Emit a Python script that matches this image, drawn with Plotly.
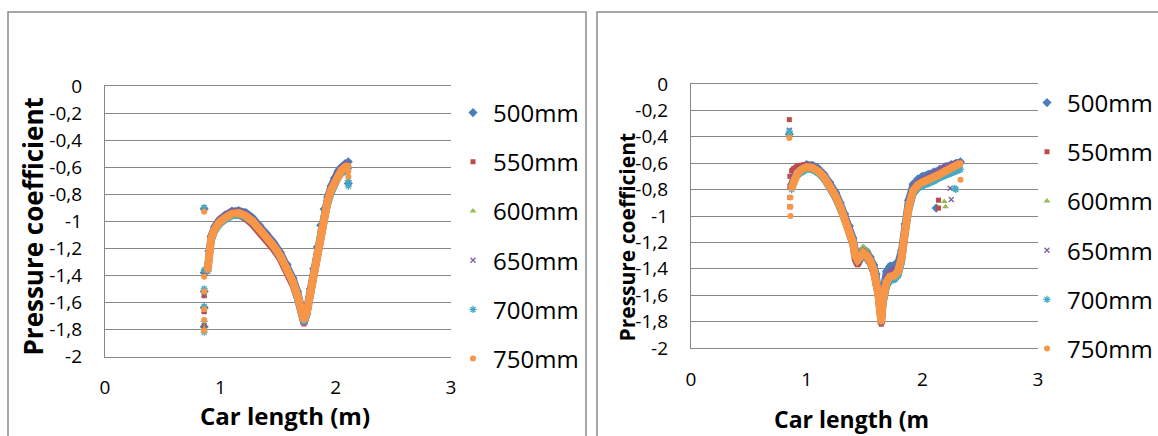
import plotly.graph_objects as go

W, H = 1158, 436
FONT = "Open Sans, Lato, sans-serif"

series_names = ["500mm", "550mm", "600mm", "650mm", "700mm", "750mm"]
series_colors = ["#4A7EBB", "#BE4B48", "#98B954", "#7D60A0", "#46AAC5", "#F79646"]
series_symbols = ["diamond", "square", "triangle-up", "x-thin-open", "asterisk-open", "circle"]
marker_sizes = [7, 5, 6, 5, 6, 6]
line_widths = [7, 7, 7, 7, 7, 8]

y_tick_vals = [0, -0.2, -0.4, -0.6, -0.8, -1, -1.2, -1.4, -1.6, -1.8, -2]
y_tick_text = ["0", "-0,2", "-0,4", "-0,6", "-0,8", "-1", "-1,2", "-1,4", "-1,6", "-1,8", "-2"]
x_tick_vals = [0, 1, 2, 3]
x_tick_text = ["0", "1", "2", "3"]

# ---------------- left chart ----------------
x_left = [0.89, 0.90, 0.92, 0.95, 0.99, 1.04, 1.10, 1.16, 1.22, 1.28, 1.34, 1.40, 1.46, 1.52, 1.58, 1.63,
          1.67, 1.70, 1.725, 1.75, 1.78, 1.81, 1.84, 1.87, 1.90, 1.93, 1.96, 1.99, 2.02, 2.05, 2.08, 2.11]
left_500 = [-1.34, -1.22, -1.11, -1.04, -0.99, -0.955, -0.925, -0.92, -0.935, -0.975, -1.03, -1.09, -1.155, -1.23,
            -1.32, -1.42, -1.52, -1.62, -1.71, -1.64, -1.50, -1.35, -1.19, -1.03, -0.91, -0.82, -0.74, -0.68, -0.63,
            -0.60, -0.575, -0.56]
left_550 = [-1.37, -1.25, -1.14, -1.07, -1.02, -0.985, -0.955, -0.955, -0.98, -1.025, -1.08, -1.14, -1.205, -1.28,
            -1.375, -1.475, -1.575, -1.68, -1.76, -1.69, -1.55, -1.40, -1.24, -1.08, -0.96, -0.865, -0.785, -0.72,
            -0.67, -0.635, -0.61, -0.60]
left_600 = [-1.36, -1.235, -1.125, -1.055, -1.005, -0.97, -0.94, -0.935, -0.955, -0.995, -1.05, -1.11, -1.175, -1.25,
            -1.345, -1.445, -1.545, -1.645, -1.725, -1.665, -1.525, -1.375, -1.215, -1.055, -0.935, -0.845, -0.765,
            -0.705, -0.655, -0.62, -0.595, -0.585]
left_650 = [-1.35, -1.23, -1.115, -1.045, -0.995, -0.96, -0.93, -0.925, -0.945, -0.985, -1.04, -1.10, -1.165, -1.24,
            -1.335, -1.435, -1.535, -1.635, -1.72, -1.655, -1.515, -1.365, -1.205, -1.045, -0.925, -0.835, -0.755,
            -0.695, -0.645, -0.61, -0.585, -0.57]
left_700 = [-1.37, -1.25, -1.145, -1.075, -1.025, -0.99, -0.96, -0.955, -0.97, -1.01, -1.06, -1.12, -1.185, -1.26,
            -1.355, -1.455, -1.56, -1.66, -1.745, -1.69, -1.56, -1.41, -1.25, -1.09, -0.97, -0.875, -0.795, -0.73,
            -0.68, -0.645, -0.62, -0.61]
left_750 = [-1.36, -1.24, -1.13, -1.06, -1.01, -0.975, -0.945, -0.94, -0.96, -1.00, -1.055, -1.115, -1.18, -1.255,
            -1.35, -1.45, -1.55, -1.65, -1.73, -1.67, -1.53, -1.38, -1.22, -1.06, -0.94, -0.85, -0.77, -0.71, -0.66,
            -0.625, -0.60, -0.59]

# isolated (stray) points, left chart
left_iso_x = [
    [0.86, 0.86, 0.86, 0.86, 0.86, 2.11],
    [0.86, 0.86, 0.86, 0.86, 0.86],
    [0.86, 0.86, 0.86, 0.86, 0.86],
    [0.86, 0.86, 0.86, 0.86, 0.86],
    [0.86, 0.86, 0.86, 0.86, 0.86, 0.86, 2.11, 2.11],
    [0.86, 0.86, 0.86, 0.86, 0.86, 0.86, 2.11, 2.11],
]
left_iso_y = [
    [-0.91, -1.38, -1.52, -1.64, -1.78, -0.72],
    [-0.92, -1.37, -1.55, -1.67, -1.77],
    [-0.91, -1.40, -1.53, -1.65, -1.79],
    [-0.90, -1.39, -1.54, -1.66, -1.80],
    [-0.90, -1.36, -1.50, -1.63, -1.74, -1.82, -0.74, -0.70],
    [-0.93, -1.41, -1.52, -1.65, -1.73, -1.81, -0.67, -0.63],
]

# ---------------- right chart ----------------
x_right = [0.87, 0.89, 0.92, 0.96, 1.00, 1.05, 1.10, 1.15, 1.20, 1.25, 1.29, 1.33, 1.37, 1.40, 1.42, 1.44, 1.47,
           1.49, 1.52, 1.55, 1.58, 1.60, 1.62, 1.635, 1.645, 1.66, 1.69, 1.72, 1.76, 1.79, 1.82, 1.85, 1.88, 1.92,
           1.96, 2.00, 2.05, 2.10, 2.15, 2.20, 2.25, 2.29, 2.33]
right_500 = [-0.76, -0.70, -0.655, -0.625, -0.61, -0.615, -0.64, -0.685, -0.745, -0.82, -0.90, -0.985, -1.075,
             -1.165, -1.26, -1.29, -1.27, -1.25, -1.27, -1.31, -1.37, -1.44, -1.53, -1.66, -1.74, -1.56, -1.42,
             -1.38, -1.37, -1.35, -1.26, -1.06, -0.88, -0.76, -0.72, -0.70, -0.685, -0.665, -0.645, -0.625, -0.61,
             -0.60, -0.59]
right_550 = [-0.66, -0.64, -0.625, -0.62, -0.615, -0.625, -0.655, -0.70, -0.77, -0.855, -0.94, -1.03, -1.125,
             -1.22, -1.33, -1.37, -1.32, -1.30, -1.32, -1.36, -1.43, -1.51, -1.61, -1.74, -1.82, -1.66, -1.53,
             -1.48, -1.47, -1.44, -1.34, -1.13, -0.95, -0.82, -0.77, -0.74, -0.72, -0.70, -0.675, -0.65, -0.63,
             -0.61, -0.60]
right_600 = [-0.78, -0.71, -0.67, -0.64, -0.625, -0.63, -0.655, -0.70, -0.765, -0.845, -0.925, -1.01, -1.10,
             -1.19, -1.29, -1.31, -1.27, -1.25, -1.28, -1.33, -1.40, -1.48, -1.58, -1.71, -1.79, -1.61, -1.48,
             -1.42, -1.42, -1.40, -1.31, -1.11, -0.93, -0.80, -0.755, -0.735, -0.72, -0.70, -0.675, -0.65, -0.63,
             -0.61, -0.60]
right_650 = [-0.77, -0.705, -0.66, -0.635, -0.62, -0.625, -0.65, -0.695, -0.76, -0.84, -0.92, -1.005, -1.10,
             -1.19, -1.29, -1.32, -1.29, -1.27, -1.29, -1.33, -1.40, -1.48, -1.58, -1.71, -1.79, -1.60, -1.47,
             -1.42, -1.41, -1.39, -1.30, -1.10, -0.92, -0.79, -0.745, -0.725, -0.705, -0.68, -0.655, -0.625, -0.61,
             -0.60, -0.595]
right_700 = [-0.80, -0.735, -0.69, -0.66, -0.645, -0.65, -0.675, -0.72, -0.785, -0.865, -0.945, -1.03, -1.125,
             -1.215, -1.31, -1.345, -1.315, -1.295, -1.315, -1.355, -1.425, -1.505, -1.605, -1.73, -1.80, -1.66,
             -1.53, -1.49, -1.48, -1.45, -1.35, -1.15, -0.97, -0.835, -0.79, -0.77, -0.755, -0.735, -0.71, -0.69,
             -0.67, -0.655, -0.645]
right_750 = [-0.79, -0.72, -0.675, -0.645, -0.63, -0.635, -0.66, -0.705, -0.77, -0.85, -0.93, -1.015, -1.11,
             -1.20, -1.30, -1.33, -1.30, -1.28, -1.30, -1.34, -1.41, -1.49, -1.59, -1.72, -1.80, -1.63, -1.50,
             -1.46, -1.45, -1.42, -1.32, -1.12, -0.94, -0.81, -0.765, -0.745, -0.73, -0.71, -0.685, -0.66, -0.635,
             -0.615, -0.60]

right_iso_x = [
    [0.85, 2.12],
    [0.85, 0.855, 0.855, 0.855, 0.855, 2.14, 2.14],
    [0.85, 2.19, 2.20],
    [0.85, 2.24, 2.25],
    [0.85, 2.28, 2.29],
    [0.85, 0.86, 0.86, 0.86, 2.33],
]
right_iso_y = [
    [-0.38, -0.94],
    [-0.27, -0.70, -0.78, -0.86, -0.93, -0.88, -0.94],
    [-0.38, -0.89, -0.93],
    [-0.35, -0.79, -0.875],
    [-0.36, -0.79, -0.80],
    [-0.41, -0.86, -0.93, -1.00, -0.725],
]

left_series = [left_500, left_550, left_600, left_650, left_700, left_750]
right_series = [right_500, right_550, right_600, right_650, right_700, right_750]


def px(x):
    return x / W


def py(y):
    return 1 - y / H


fig = go.Figure()


def add_chart(xc, ys, iso_x, iso_y, xa, ya, legend_id, tag):
    for i, name in enumerate(series_names):
        grp = f"{tag}{name}"
        fig.add_trace(go.Scatter(
            x=xc, y=ys[i], mode="lines", xaxis=xa, yaxis=ya,
            line=dict(color=series_colors[i], width=line_widths[i]),
            legendgroup=grp, showlegend=False, hoverinfo="skip", legend=legend_id))
        mx = list(xc) + list(iso_x[i])
        my = list(ys[i]) + list(iso_y[i])
        mk = dict(symbol=series_symbols[i], size=marker_sizes[i], color=series_colors[i],
                  line=dict(width=1.3 if "open" in series_symbols[i] else 0, color=series_colors[i]))
        fig.add_trace(go.Scatter(
            x=mx, y=my, mode="markers", xaxis=xa, yaxis=ya, name=name, marker=mk,
            legendgroup=grp, showlegend=True, legend=legend_id))


add_chart(x_left, left_series, left_iso_x, left_iso_y, "x", "y", "legend", "L")
add_chart(x_right, right_series, right_iso_x, right_iso_y, "x2", "y2", "legend2", "R")

GRID = "#878787"


def xaxis_cfg(domain, anchor):
    return dict(domain=domain, anchor=anchor, range=[0, 3], tickvals=x_tick_vals, ticktext=x_tick_text,
                showgrid=False, zeroline=False, showline=True, mirror=True, linecolor=GRID, linewidth=1.3,
                ticks="outside", ticklen=14, tickcolor="rgba(0,0,0,0)",
                tickfont=dict(family=FONT, size=19, color="#000"), fixedrange=True)


def yaxis_cfg(domain, anchor):
    return dict(domain=domain, anchor=anchor, range=[-2, 0], tickvals=y_tick_vals, ticktext=y_tick_text,
                showgrid=True, gridcolor=GRID, gridwidth=1.4, zeroline=False, showline=True, linecolor=GRID,
                linewidth=1.3, ticks="outside", ticklen=18, tickcolor="rgba(0,0,0,0)",
                tickfont=dict(family=FONT, size=19, color="#000"), fixedrange=True)


fig.update_layout(
    width=W, height=H, margin=dict(l=0, r=0, t=0, b=0, autoexpand=False),
    paper_bgcolor="white", plot_bgcolor="white",
    xaxis=xaxis_cfg([px(105), px(451)], "y"),
    yaxis=yaxis_cfg([py(356.5), py(86)], "x"),
    xaxis2=xaxis_cfg([px(691), px(1038)], "y2"),
    yaxis2=yaxis_cfg([py(348), py(84)], "x2"),
    legend=dict(x=px(453), y=py(90.5), xanchor="left", yanchor="top", bgcolor="rgba(0,0,0,0)",
                font=dict(family=FONT, size=24, color="#000"), tracegroupgap=15, itemwidth=30),
    legend2=dict(x=px(1027), y=py(80.5), xanchor="left", yanchor="top", bgcolor="rgba(0,0,0,0)",
                 font=dict(family=FONT, size=24, color="#000"), tracegroupgap=15, itemwidth=30),
    showlegend=True,
)

# chart frames
fig.add_shape(type="rect", xref="paper", yref="paper", x0=px(8), x1=px(586), y0=-0.1, y1=py(12),
              line=dict(color="#8A8A8A", width=1.5))
fig.add_shape(type="rect", xref="paper", yref="paper", x0=px(597), x1=1.05, y0=-0.1, y1=py(12),
              line=dict(color="#8A8A8A", width=1.5))

# titles
fig.add_annotation(text="<b>Pressure coefficient</b>", xref="paper", yref="paper", x=px(33), y=py(226.5),
                   xanchor="center", yanchor="middle",
                   textangle=-90, showarrow=False, font=dict(family=FONT, size=26, color="#000"))
fig.add_annotation(text="<b>Car length (m)</b>", xref="paper", yref="paper", x=px(285), y=py(415),
                   xanchor="center", yanchor="middle",
                   showarrow=False, font=dict(family=FONT, size=24, color="#000"))
fig.add_annotation(text="<b>Pressure coefficient</b>", xref="paper", yref="paper", x=px(626), y=py(237.5),
                   xanchor="center", yanchor="middle",
                   textangle=-90, showarrow=False, font=dict(family=FONT, size=21, color="#000"))
fig.add_annotation(text="<b>Car length (m</b>", xref="paper", yref="paper", x=px(852), y=py(419),
                   xanchor="center", yanchor="middle",
                   showarrow=False, font=dict(family=FONT, size=23, color="#000"))

# remove the browser's default 8px body margin so the 1158x436 figure fills the window exactly
fig.write_html("out.html", config={"displayModeBar": False},
               post_script="document.body.style.margin='0';document.body.style.overflow='hidden';")
